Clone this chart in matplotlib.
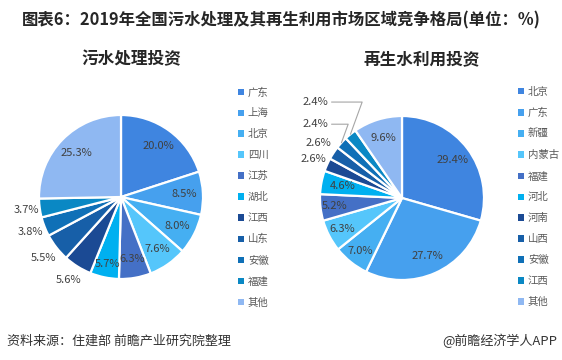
import numpy as np
import matplotlib.pyplot as plt

plt.rcParams['font.family'] = ['Noto Sans CJK SC', 'DejaVu Sans']

# ==========================
# Data
# ==========================

left_labels = ["广东", "上海", "北京", "四川", "江苏", "湖北", "江西", "山东", "安徽", "福建", "其他"]
left_values = [20.0, 8.5, 8.0, 7.6, 6.3, 5.7, 5.6, 5.5, 3.8, 3.7, 25.3]

right_labels = ["北京", "广东", "新疆", "内蒙古", "福建", "河北", "河南", "山西", "安徽", "江西", "其他"]
right_values = [29.4, 27.7, 7.0, 6.3, 5.2, 4.6, 2.6, 2.6, 2.4, 2.4, 9.6]

colors = ["#3f85e0", "#46a0ee", "#45aff2", "#55c6fb", "#4470c6", "#00b0f0",
          "#1b4a94", "#175fa8", "#0f70b7", "#0a88c4", "#8fb8f2"]

W, H = 562, 360
fig = plt.figure(figsize=(W / 100, H / 100), dpi=100)


def pie_axes(cx, cy, r):
    return fig.add_axes([(cx - r) / W, (H - cy - r) / H, 2 * r / W, 2 * r / H])


def draw_pie(ax, values, outside, leaders):
    wedges, _ = ax.pie(
        values,
        colors=colors,
        startangle=90,
        counterclock=False,
        radius=1,
        wedgeprops=dict(edgecolor="white", linewidth=1.6),
    )
    ax.set_xlim(-1, 1)
    ax.set_ylim(-1, 1)
    ax.axis("off")
    for i, (w, v) in enumerate(zip(wedges, values)):
        ang = np.deg2rad((w.theta1 + w.theta2) / 2)
        if i in leaders:
            tx, ty = leaders[i]
            ax.annotate(
                f"{v:.1f}%", xy=(1.0 * np.cos(ang), 1.0 * np.sin(ang)),
                xytext=(tx, ty), ha="center", va="center",
                fontsize=8, color="#404040",
                arrowprops=dict(arrowstyle="-", color="#a6a6a6", lw=0.8,
                                shrinkA=0, shrinkB=0, relpos=(1.0, 0.5),
                                connectionstyle="angle,angleA=0,angleB=70,rad=0"),
            )
        else:
            rr = outside.get(i, 0.77)
            ax.text(rr * np.cos(ang), rr * np.sin(ang), f"{v:.1f}%",
                    ha="center", va="center", fontsize=8, color="#404040")
    return wedges


# Left pie
ax1 = pie_axes(121, 197, 82)
w1 = draw_pie(ax1, left_values,
              {5: 0.83, 6: 1.2, 7: 1.2, 8: 1.18, 9: 1.17}, {})

# Right pie
ax2 = pie_axes(402, 198, 82)
w2 = draw_pie(ax2, right_values,
              {2: 0.82, 3: 0.82, 4: 0.83, 5: 0.74, 6: 1.18, 7: 1.22},
              {8: (-1.05, 0.90), 9: (-1.05, 1.17)})

# Legends
for wedges, labels, x in [(w1, left_labels, 238 / W), (w2, right_labels, 518 / W)]:
    fig.legend(
        wedges, labels,
        loc="upper left", bbox_to_anchor=(x, 1 - 87 / H),
        frameon=False, fontsize=7.5,
        handlelength=0.55, handleheight=0.55, handletextpad=0.4,
        labelspacing=1.05, borderpad=0, borderaxespad=0,
        labelcolor="#595959",
    )
for leg in fig.legends:
    for p in leg.get_patches():
        p.set_edgecolor("none")

# Titles
fig.text(22 / W, 1 - 20 / H, "图表6：2019年全国污水处理及其再生利用市场区域竞争格局(单位：%)",
         fontsize=11.8, fontweight="bold", color="#262626", va="center", ha="left")
fig.text(131 / W, 1 - 59 / H, "污水处理投资", fontsize=12, fontweight="bold",
         color="#262626", ha="center", va="center")
fig.text(422 / W, 1 - 59 / H, "再生水利用投资", fontsize=12, fontweight="bold",
         color="#262626", ha="center", va="center")

# Footer
fig.text(7 / W, 1 - 341 / H, "资料来源：住建部 前瞻产业研究院整理", fontsize=9.4,
         color="#333333", ha="left", va="center")
fig.text(557 / W, 1 - 341 / H, "@前瞻经济学人APP", fontsize=9.4,
         color="#333333", ha="right", va="center")

fig.savefig("out.png", dpi=100)
